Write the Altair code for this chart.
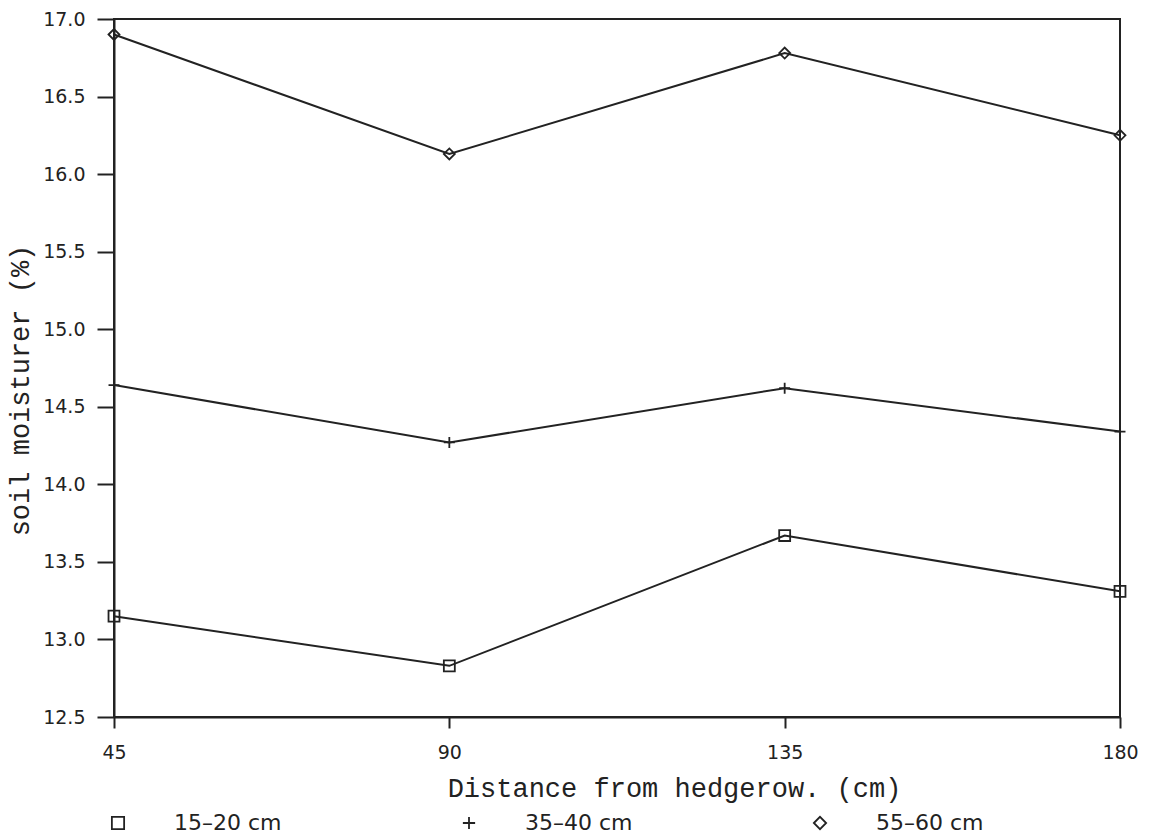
import altair as alt
import pandas as pd

distance = [45, 90, 135, 180]
depth_labels = ["15–20 cm", "35–40 cm", "55–60 cm"]
moist_15_20 = [13.15, 12.83, 13.67, 13.31]
moist_35_40 = [14.64, 14.27, 14.62, 14.34]
moist_55_60 = [16.90, 16.13, 16.78, 16.25]
y_ticks = [12.5, 13.0, 13.5, 14.0, 14.5, 15.0, 15.5, 16.0, 16.5, 17.0]

rows = []
for lab, vals in zip(depth_labels, [moist_15_20, moist_35_40, moist_55_60]):
    for d, v in zip(distance, vals):
        rows.append({"distance": d, "moisture": v, "depth": lab})
df = pd.DataFrame(rows)

ink = "#222222"
plus_path = "M-1,0H1M0,-1V1"

x = alt.X("distance:Q",
          scale=alt.Scale(domain=[45, 180], nice=False, zero=False),
          axis=alt.Axis(values=distance, title="Distance from hedgerow. (cm)",
                        titleFont="Liberation Mono", titleFontSize=27, titleFontWeight="normal",
                        titleColor=ink, titleX=560, titleY=71, titleBaseline="middle",
                        labelFont="DejaVu Sans", labelFontSize=19, labelColor=ink,
                        labelPadding=15, tickSize=11, tickColor=ink, tickWidth=2,
                        domainColor=ink, domainWidth=2, grid=False, labelFlush=False))
y = alt.Y("moisture:Q",
          scale=alt.Scale(domain=[12.5, 17.0], nice=False, zero=False),
          axis=alt.Axis(values=y_ticks, format=".1f", title="soil moisturer (%)",
                        titleFont="Liberation Mono", titleFontSize=27, titleFontWeight="normal",
                        titleColor=ink, titleX=-94, titleY=371, titleAngle=270,
                        titleAlign="center", titleBaseline="middle",
                        labelFont="DejaVu Sans", labelFontSize=19, labelColor=ink,
                        labelPadding=12, tickSize=17, tickColor=ink, tickWidth=2,
                        domainColor=ink, domainWidth=2, grid=False, labelFlush=False))

lines = alt.Chart(df).mark_line(color=ink, strokeWidth=2).encode(
    x=x, y=y, detail="depth:N")

points = alt.Chart(df).mark_point(color=ink, filled=False, strokeWidth=1.8, size=120, opacity=1).encode(
    x=x, y=y,
    shape=alt.Shape("depth:N",
                    scale=alt.Scale(domain=depth_labels, range=["square", plus_path, "diamond"]),
                    legend=alt.Legend(title=None, orient="none", direction="horizontal", columns=3,
                                      legendX=-7, legendY=793, padding=0,
                                      labelFont="DejaVu Sans", labelFontSize=22, labelColor=ink,
                                      labelOffset=45, columnPadding=176, symbolSize=150,
                                      symbolStrokeColor=ink, symbolStrokeWidth=1.8,
                                      symbolType="square")))

chart = alt.layer(lines, points).properties(
    width=1006, height=698,
    autosize=alt.AutoSizeParams(type="none"),
    padding={"left": 106, "top": 11, "right": 30, "bottom": 118},
    background="white",
).configure_view(stroke=ink, strokeWidth=2)

chart.save("out.html", embed_options={"renderer": "svg", "actions": False})
